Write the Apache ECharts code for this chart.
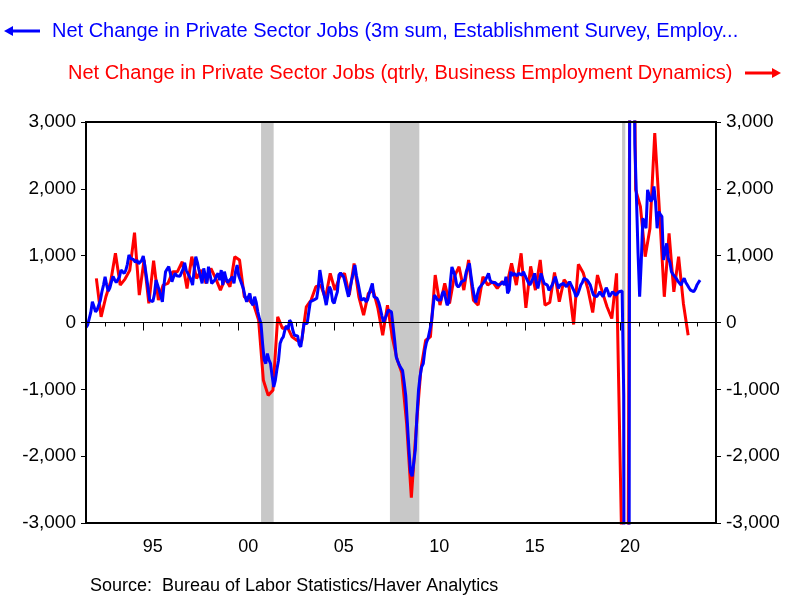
<!DOCTYPE html>
<html><head><meta charset="utf-8">
<script src="https://cdn.jsdelivr.net/npm/echarts@6/dist/echarts.min.js"></script>
<style>html,body{margin:0;padding:0;background:#fff}#c{width:800px;height:600px}</style>
</head><body><div id="c"></div>
<script>
// Establishment survey: 3-month sum of private payroll change (thousands), monthly from Jan 1992
const estab1990s = [
  -75,-40,-20,150,310,240,160,190,210,330,460,560,
  685,560,470,520,610,690,640,600,585,680,785,760,
  735,780,870,1010,960,935,940,900,935,880,860,930,
  995,850,685,520,335,320,310,420,635,560,485,400,
  310,560,760,800,835,740,610,680,735,700,720,690,
  685,800,895,780,735,735,640,560,785,985,900,785,
  680,585,810,700,585,835,710,585,600,635,700,735,
  635,785,560,760,660,600,585,650,685,585,760,860
];
const estab2000s = [
  700,635,660,500,385,310,380,435,300,260,385,300,
  160,60,-15,-315,-560,-615,-465,-560,-615,-800,-965,-865,
  -700,-565,-315,-250,-215,-115,-50,-100,35,0,-115,-190,
  -190,-200,-330,-365,-200,-15,-30,-15,150,310,300,335,
  340,360,520,785,640,485,380,260,400,535,485,320,
  285,380,460,710,740,760,680,585,480,385,520,635,
  735,860,700,585,460,335,350,360,310,340,435,510,
  585,385,370,360,300,210,100,10,60,120,185,175,
  160,-50,-265,-515,-580,-640,-680,-720,-900,-1100,-1500,-1900,
  -2240,-2300,-2300,-1900,-1400,-1015,-800,-665,-615,-415,-300,-240
];
const estab2010s = [
  -240,-15,200,410,380,335,330,335,435,470,460,260,
  300,600,830,835,700,560,530,560,610,620,635,760,
  750,885,700,535,400,300,420,510,540,560,600,635,
  680,735,635,600,585,600,585,560,535,580,610,560,
  685,435,485,760,700,735,720,700,735,735,710,760,
  700,685,600,560,610,660,735,600,510,620,735,660,
  585,560,560,480,460,560,620,685,600,510,560,585,
  585,585,535,560,610,560,535,460,385,420,485,560,
  600,660,650,635,600,560,480,410,400,385,420,460,
  420,385,460,520,470,385,410,460,450,410,430,460
];
const estab2020s = [
  485,470,-1100,-20600,-17800,-11800,8500,9600,5700,2670,1860,1040,
  385,900,1560,1500,1410,1985,1900,1810,1850,2035,1800,1410,
  1660,1620,1585,935,1050,1185,960,900,760,720,710,660,
  620,600,560,620,660,600,560,520,485,470,460,500,
  560,600,635
];
// Business Employment Dynamics: quarterly net change (thousands), from 1992Q3
const bed1990s = [660,85,385,610,1035,560,650,780,1345,410,935,285,925,335,560,585,760,760,910,510,985,660,785,585,810,660,485,660,535,985];
const bed2000s = [935,385,335,260,35,-865,-1090,-1015,85,-90,-65,-215,-265,-290,235,335,535,560,360,735,485,685,735,410,885,385,110,435,485,210,-190,260,-215,-550,-750,-1500,-2620,-1600,-700,-265];
const bed2010s = [-215,710,260,585,285,685,835,485,935,335,260,685,560,610,510,610,560,885,560,1035,220,840,485,935,260,300,750,310,640,550,-30,870,745,500,150,710,460,235,60,735];
const bed2020s = [-3000,-13000,9000,1985,1735,985,1410,2835,1650,385,1335,460,985,285,-190];

const recessionStart = [2001.17, 2007.92, 2020.08];
const recessionEnd   = [2001.83, 2009.46, 2020.25];
const tickYears = [];
for (let y = 1992; y <= 2024; y++) tickYears.push(String(y));
const yTicks = [-3000, 3000, 1000]; // min, max, step

const blueLabel = 'Net Change in Private Sector Jobs (3m sum, Establishment Survey, Employ...';
const redLabel = 'Net Change in Private Sector Jobs (qtrly, Business Employment Dynamics)';
const sourceLabel = 'Source:  Bureau of Labor Statistics/Haver Analytics';

const estab = [].concat(estab1990s, estab2000s, estab2010s, estab2020s);
const bed = [].concat(bed1990s, bed2000s, bed2010s, bed2020s);
const estabData = estab.map((v, i) => [1992 + i / 12, v]);
const bedData = bed.map((v, k) => [1992 + (6.5 + 3 * k) / 12, v]);

const FONT = 'Liberation Sans, Arial, sans-serif';
const fmt = v => v.toLocaleString('en-US');
const yAxisBase = pos => ({
  type: 'value', position: pos, min: yTicks[0], max: yTicks[1], interval: yTicks[2],
  axisLine: {show: false},
  axisTick: {show: true, length: 5, lineStyle: {color: '#000', width: 1}},
  splitLine: {show: false},
  axisLabel: {color: '#000', fontSize: 19, fontFamily: FONT, margin: 10, formatter: fmt}
});

const chart = echarts.init(document.getElementById('c'));
chart.setOption({
  animation: false,
  grid: {left: 86, right: 84, top: 122, bottom: 77, show: true, borderColor: '#000', borderWidth: 2,
         backgroundColor: 'rgba(0,0,0,0)', z: 10},
  xAxis: [
    {type: 'value', min: 1992, max: 2025, interval: 1, position: 'bottom',
     axisLine: {show: false}, axisLabel: {show: false}, splitLine: {show: false},
     axisTick: {show: true, length: 4, lineStyle: {color: '#000'}}},
    {type: 'category', data: tickYears, boundaryGap: true, position: 'bottom',
     axisLine: {show: false}, splitLine: {show: false},
     axisTick: {show: true, length: 8, interval: (i, v) => +v % 5 === 0, lineStyle: {color: '#000'}},
     axisLabel: {interval: (i, v) => +v % 5 === 0, formatter: v => v.slice(2), color: '#000',
                 fontSize: 18, fontFamily: FONT, margin: 15}}
  ],
  yAxis: [yAxisBase('left'), yAxisBase('right')],
  series: [
    {type: 'line', xAxisIndex: 0, yAxisIndex: 0, data: [], z: 1, silent: true,
     markArea: {silent: true, itemStyle: {color: '#c8c8c8', opacity: 1},
                data: recessionStart.map((s, i) => [{xAxis: s}, {xAxis: recessionEnd[i]}])},
     markLine: {silent: true, symbol: ['none', 'none'], label: {show: false},
                lineStyle: {color: '#000', width: 1, type: 'solid'}, data: [{yAxis: 0}]}},
    {name: 'bed', type: 'line', xAxisIndex: 0, yAxisIndex: 1, data: bedData, showSymbol: false, z: 3,
     clip: true, lineStyle: {color: '#ff0000', width: 3}},
    {name: 'estab', type: 'line', xAxisIndex: 0, yAxisIndex: 0, data: estabData, showSymbol: false, z: 4,
     clip: true, lineStyle: {color: '#0000ff', width: 3}}
  ],
  graphic: [
    {type: 'line', shape: {x1: 40, y1: 31, x2: 10, y2: 31}, style: {stroke: '#0000ff', lineWidth: 3}},
    {type: 'polygon', shape: {points: [[4, 31], [13, 26], [13, 36]]}, style: {fill: '#0000ff'}},
    {type: 'text', x: 52, y: 31, style: {text: blueLabel, fill: '#0000ff', font: '20px ' + FONT, verticalAlign: 'middle'}},
    {type: 'text', x: 68, y: 73, style: {text: redLabel, fill: '#ff0000', font: '20px ' + FONT, verticalAlign: 'middle'}},
    {type: 'line', shape: {x1: 745, y1: 73, x2: 774, y2: 73}, style: {stroke: '#ff0000', lineWidth: 3}},
    {type: 'polygon', shape: {points: [[781, 73], [772, 68], [772, 78]]}, style: {fill: '#ff0000'}},
    {type: 'text', x: 90, y: 586, style: {text: sourceLabel, fill: '#000', font: '18px ' + FONT, verticalAlign: 'middle'}}
  ]
});
</script></body></html>
